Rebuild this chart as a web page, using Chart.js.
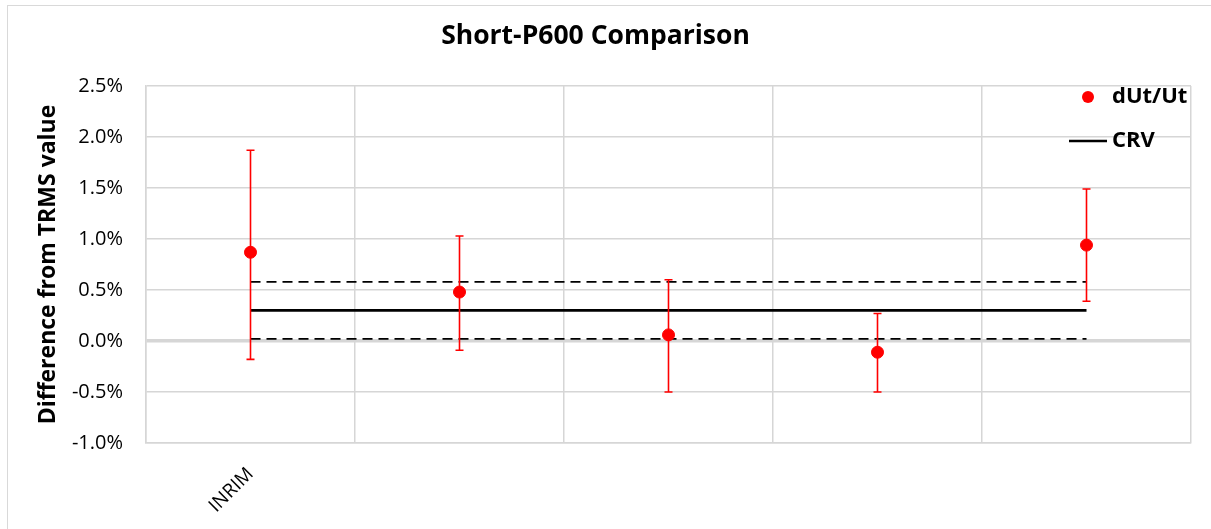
<!DOCTYPE html>
<html>
<head>
<meta charset="utf-8">
<script src="https://cdn.jsdelivr.net/npm/chart.js@4/dist/chart.umd.min.js"></script>
<style>
  html, body { margin: 0; padding: 0; background: #ffffff; }
  #wrap { width: 1211px; height: 529px; position: relative; }
</style>
</head>
<body>
<div id="wrap"><canvas id="c"></canvas></div>
<script>
// ---- data ----
const categories = ["INRIM", "", "", "", ""];
const values     = [0.87, 0.48, 0.06, -0.11, 0.94];   // dUt/Ut (%)
const errUpper   = [1.87, 1.03, 0.60, 0.27, 1.49];    // top of error bar (%)
const errLower   = [-0.18, -0.09, -0.50, -0.50, 0.39]; // bottom of error bar (%)
const crvValue   = 0.30;   // CRV (%)
const crvUpper   = 0.58;   // CRV + U (%)
const crvLower   = 0.02;   // CRV - U (%)
const yMin = -1.0, yMax = 2.5, yStep = 0.5;

const FONT = "'Open Sans', 'Liberation Sans', sans-serif";

const errorBarPlugin = {
  id: 'errorBars',
  beforeDatasetDraw(chart, args) {
    if (args.index !== 0) return;
    const ctx = chart.ctx, xs = chart.scales.x, ys = chart.scales.y;
    ctx.save();
    ctx.strokeStyle = '#ff0000';
    ctx.lineWidth = 1.6;
    for (let i = 0; i < values.length; i++) {
      const x = xs.getPixelForValue(i);
      const yt = ys.getPixelForValue(errUpper[i]);
      const yb = ys.getPixelForValue(errLower[i]);
      ctx.beginPath();
      ctx.moveTo(x, yt); ctx.lineTo(x, yb);
      ctx.moveTo(x - 4, yt); ctx.lineTo(x + 4, yt);
      ctx.moveTo(x - 4, yb); ctx.lineTo(x + 4, yb);
      ctx.stroke();
    }
    ctx.restore();
  }
};

const frameLegendPlugin = {
  id: 'frameLegend',
  beforeDraw(chart) {
    const ctx = chart.ctx;
    ctx.save();
    ctx.fillStyle = '#ffffff';
    ctx.fillRect(0, 0, chart.width, chart.height);
    ctx.strokeStyle = '#d9d9d9';
    ctx.lineWidth = 1;
    ctx.strokeRect(7.5, 5.5, chart.width + 20, chart.height + 20);
    ctx.restore();
  },
  afterDraw(chart) {
    const ctx = chart.ctx;
    const area = chart.chartArea;
    ctx.save();
    ctx.font = "bold 22px " + FONT;
    ctx.fillStyle = '#000000';
    ctx.textBaseline = 'middle';
    ctx.textAlign = 'left';
    const tx = area.right - 79;
    // dUt/Ut item
    ctx.beginPath();
    ctx.fillStyle = '#ff0000';
    ctx.arc(tx - 24, area.top + 11, 6, 0, Math.PI * 2);
    ctx.fill();
    ctx.fillStyle = '#000000';
    ctx.fillText('dUt/Ut', tx, area.top + 11);
    // CRV item
    ctx.strokeStyle = '#000000';
    ctx.lineWidth = 2.5;
    ctx.beginPath();
    ctx.moveTo(tx - 43, area.top + 55);
    ctx.lineTo(tx - 5, area.top + 55);
    ctx.stroke();
    ctx.fillText('CRV', tx, area.top + 55);
    ctx.restore();
  }
};

new Chart(document.getElementById('c'), {
  type: 'line',
  data: {
    labels: categories,
    datasets: [
      {
        label: 'dUt/Ut',
        data: values,
        showLine: false,
        pointRadius: 6,
        pointHoverRadius: 6,
        pointBackgroundColor: '#ff0000',
        pointBorderColor: '#ff0000',
        borderColor: '#ff0000',
        order: 0
      },
      {
        label: 'CRV',
        data: categories.map(() => crvValue),
        borderColor: '#000000',
        borderWidth: 2.6,
        pointRadius: 0,
        fill: false,
        order: 1
      },
      {
        label: 'CRV+U',
        data: categories.map(() => crvUpper),
        borderColor: '#000000',
        borderWidth: 1.8,
        borderDash: [10, 6],
        pointRadius: 0,
        fill: false,
        order: 2
      },
      {
        label: 'CRV-U',
        data: categories.map(() => crvLower),
        borderColor: '#000000',
        borderWidth: 1.8,
        borderDash: [10, 6],
        pointRadius: 0,
        fill: false,
        order: 3
      }
    ]
  },
  options: {
    responsive: true,
    maintainAspectRatio: false,
    animation: false,
    events: [],
    layout: { padding: { left: 0, right: 20, top: 0, bottom: 0 } },
    plugins: {
      legend: { display: false },
      tooltip: { enabled: false },
      title: {
        display: true,
        text: 'Short-P600 Comparison',
        color: '#000000',
        font: { family: FONT, size: 26.5, weight: 'bold', lineHeight: 1.2 },
        padding: { top: 21, bottom: 33.2 }
      }
    },
    scales: {
      x: {
        type: 'category',
        offset: true,
        grid: { offset: true, color: '#d6d6d6', lineWidth: 1.5, drawTicks: false },
        border: { display: true, color: '#d6d6d6', width: 1.5 },
        ticks: {
          autoSkip: false,
          minRotation: 45,
          maxRotation: 45,
          padding: 20,
          color: '#000000',
          font: { family: FONT, size: 19 }
        },
        afterFit(axis) { axis.height = 86; }
      },
      y: {
        min: yMin,
        max: yMax,
        ticks: {
          stepSize: yStep,
          padding: 23,
          color: '#000000',
          font: { family: FONT, size: 20 },
          callback: (v) => v.toFixed(1) + '%'
        },
        grid: {
          color: '#d6d6d6',
          lineWidth: (c) => (c.tick && Math.abs(c.tick.value) < 1e-9 ? 3.5 : 1.5),
          drawTicks: false
        },
        border: { display: true, color: '#d6d6d6', width: 1.5 },
        title: {
          display: true,
          text: 'Difference from TRMS value',
          color: '#000000',
          font: { family: FONT, size: 23, weight: 'bold', lineHeight: 1.2 },
          padding: { top: 35, bottom: 0 }
        },
        afterFit(axis) { axis.width = 146; }
      }
    }
  },
  plugins: [errorBarPlugin, frameLegendPlugin]
});
</script>
</body>
</html>
